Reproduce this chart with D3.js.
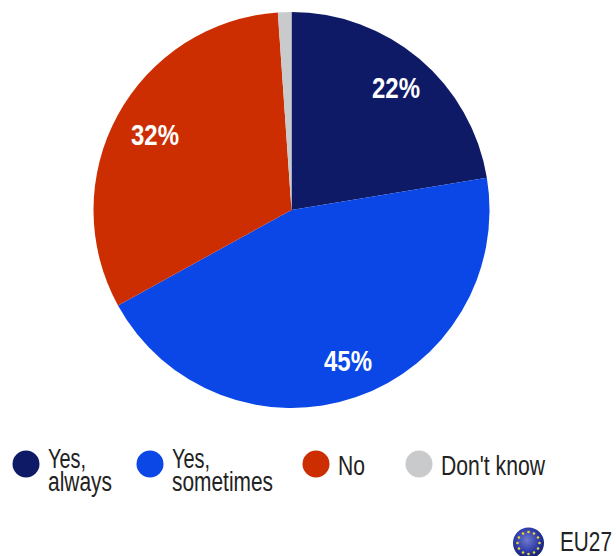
<!DOCTYPE html>
<html><head><meta charset="utf-8">
<script src="https://cdn.jsdelivr.net/npm/d3@7"></script>
<style>html,body{margin:0;padding:0;background:#fff}svg{display:block}text{font-family:"Liberation Sans",Arial,sans-serif}</style>
</head><body><svg id="c" width="616" height="556"></svg>
<script>
const categories = ["Yes, always","Yes, sometimes","No","Don't know"];
const values = [22.4,44.6,31.9,1.1];
const valueLabels = ["22%","45%","32%",""];
const colors = ["#0f1a66","#0a47e6","#cc2e02","#c9cacc"];
const legendLines = [["Yes,","always"],["Yes,","sometimes"],["No"],["Don't know"]];
const legendX = [26,150,316,419];
const labelPos = [[396,88],[348,361],[155,135]];
const svg = d3.select("#c");
const cx=291.5, cy=210, R=198;
const pie = d3.pie().sort(null).value(d=>d)(values);
const arc = d3.arc().innerRadius(0).outerRadius(R);
const g = svg.append("g").attr("transform",`translate(${cx},${cy})`);
g.selectAll("path").data(pie).join("path").attr("d",arc).attr("fill",(d,i)=>colors[i]);
const vl = valueLabels.map((t,i)=>({t,i})).filter(d=>d.t);
svg.selectAll("text.v").data(vl).join("text").attr("class","v")
  .attr("x",d=>labelPos[d.i][0]).attr("y",d=>labelPos[d.i][1]).attr("dy","0.36em")
  .attr("text-anchor","middle").attr("fill","#fff").attr("font-weight","700")
  .attr("font-size",29).attr("textLength",48).attr("lengthAdjust","spacingAndGlyphs").text(d=>d.t);
const lg = svg.selectAll("g.l").data(categories).join("g").attr("class","l")
  .attr("transform",(d,i)=>`translate(${legendX[i]},464)`);
lg.append("circle").attr("r",13.5).attr("fill",(d,i)=>colors[i]);
lg.each(function(d,i){
  const t=d3.select(this).append("text").attr("x",22).attr("fill","#222").attr("font-size",27);
  const L=legendLines[i];
  L.forEach((s,j)=>{
    t.append("tspan").attr("x",22).attr("y",L.length==2?(j==0?4:27):11).attr("textLength",{"Yes,":38,"always":64,"sometimes":101,"No":27,"Don't know":104}[s]).attr("lengthAdjust","spacingAndGlyphs").text(s);
  });
});
const defs=svg.append("defs");
const rg=defs.append("radialGradient").attr("id","eu").attr("cx","45%").attr("cy","40%").attr("r","65%");
rg.append("stop").attr("offset","0%").attr("stop-color","#6f79cc");
rg.append("stop").attr("offset","60%").attr("stop-color","#2c3aa6");
rg.append("stop").attr("offset","100%").attr("stop-color","#0c1a66");
const euCx=528.5, euCy=543;
svg.append("circle").attr("cx",euCx).attr("cy",euCy).attr("r",15.5).attr("fill","url(#eu)");
const stars=d3.range(12);
svg.selectAll("circle.s").data(stars).join("circle").attr("class","s")
  .attr("cx",d=>euCx+11*Math.sin(d*Math.PI/6)).attr("cy",d=>euCy-11*Math.cos(d*Math.PI/6))
  .attr("r",1.3).attr("fill","#ecd335");
svg.append("text").attr("x",560).attr("y",551).attr("font-size",27).attr("fill","#222").attr("textLength",52).attr("lengthAdjust","spacingAndGlyphs").text("EU27");
</script></body></html>
